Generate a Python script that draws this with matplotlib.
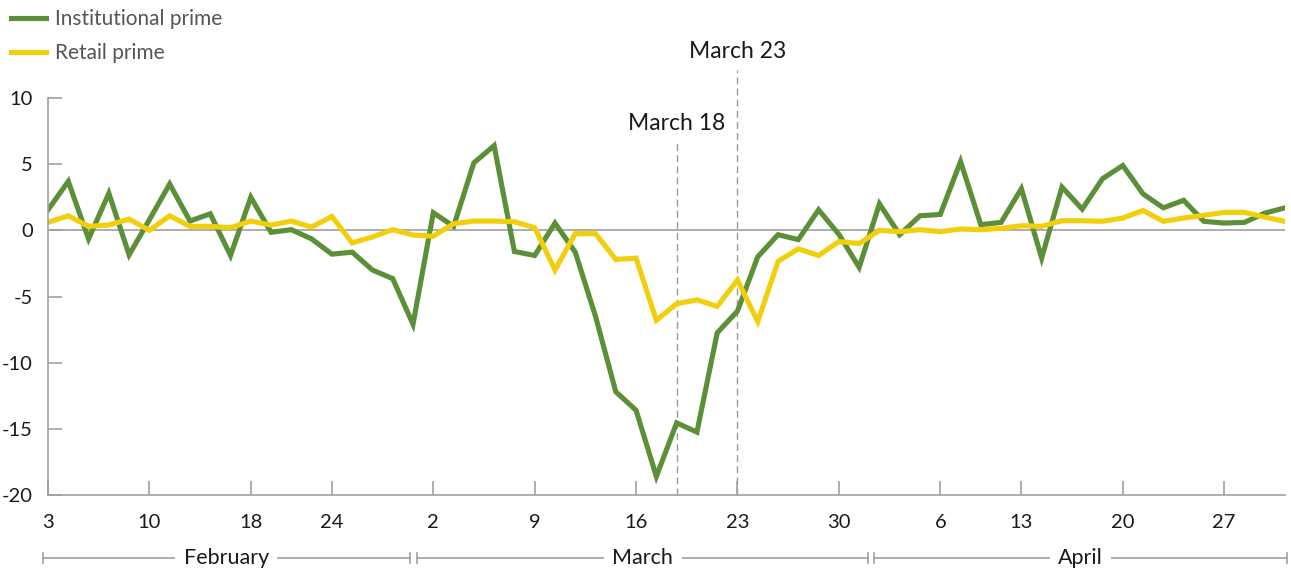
import numpy as np
import matplotlib
matplotlib.use("Agg")
import matplotlib.pyplot as plt
from matplotlib.transforms import blended_transform_factory

plt.rcParams['font.family'] = ['Lato', 'DejaVu Sans']
plt.rcParams['axes.unicode_minus'] = False

# business days, Feb 3 - Apr 30 (index positions)
institutional = [1.55, 3.7, -0.65, 2.8, -1.85, 0.8, 3.5, 0.7, 1.25, -1.9,
                 2.5, -0.15, 0.05, -0.65, -1.8, -1.65, -3.0, -3.65, -7.1, 1.33,
                 0.3, 5.1, 6.4, -1.6, -1.9, 0.55, -1.65, -6.5, -12.2, -13.6,
                 -18.6, -14.55, -15.25, -7.75, -6.1, -2.0, -0.33, -0.7, 1.55, -0.3,
                 -2.8, 2.0, -0.33, 1.1, 1.2, 5.2, 0.43, 0.6, 3.15, -2.1,
                 3.27, 1.6, 3.9, 4.9, 2.75, 1.7, 2.27, 0.68, 0.55, 0.6,
                 1.3, 1.7]
retail = [0.6, 1.1, 0.3, 0.4, 0.85, 0.0, 1.1, 0.3, 0.3, 0.2,
          0.7, 0.4, 0.7, 0.25, 1.05, -0.95, -0.5, 0.05, -0.35, -0.45,
          0.5, 0.7, 0.7, 0.65, 0.2, -3.0, -0.25, -0.25, -2.2, -2.1,
          -6.8, -5.55, -5.25, -5.75, -3.75, -6.9, -2.35, -1.4, -1.9, -0.85,
          -1.0, 0.0, -0.1, 0.05, -0.1, 0.1, 0.05, 0.15, 0.35, 0.3,
          0.73, 0.73, 0.68, 0.93, 1.5, 0.68, 0.93, 1.13, 1.36, 1.36,
          1.0, 0.68]

tick_pos = [0, 5, 10, 14, 19, 24, 29, 34, 39, 44, 48, 53, 58]
tick_labels = ['3', '10', '18', '24', '2', '9', '16', '23', '30', '6', '13', '20', '27']
months = ['February', 'March', 'April']
month_spans = [(-0.25, 17.85), (18.2, 40.45), (40.75, 61.1)]
events = ['March 18', 'March 23']
event_pos = [31, 34]
event_top = [6.65, 12.1]

green = '#5b9038'
yellow = '#f2cf0c'
grey = '#a0a0a0'

fig = plt.figure(figsize=(12.91, 5.74), dpi=100)
ax = fig.add_axes([48 / 1291, 1 - 495 / 574, (1285 - 48) / 1291, 397 / 574])

x = np.arange(len(institutional))
ax.plot(x, institutional, color=green, lw=3.7, label='Institutional prime', solid_joinstyle='miter')
ax.plot(x, retail, color=yellow, lw=3.7, label='Retail prime', solid_joinstyle='miter')
ax.axhline(0, color=grey, lw=1.2, zorder=0)

for name, pos, top in zip(events, event_pos, event_top):
    ax.plot([pos, pos], [-20, top], color='#999999', lw=1, ls=(0, (5, 3)), clip_on=False, zorder=0)
    ax.text(pos, top + 0.6, name, ha='center', va='bottom', fontsize=16.5, color='#1a1a1a')

ax.set_xlim(0, 61)
ax.set_ylim(-20, 10)
ax.set_yticks([-20, -15, -10, -5, 0, 5, 10])
ax.set_xticks(tick_pos)
ax.set_xticklabels(tick_labels)
ax.tick_params(direction='in', length=10, color=grey, width=1.2, labelsize=14.5,
               labelcolor='#1a1a1a')
ax.tick_params(axis='x', pad=14)
ax.tick_params(axis='y', pad=11)
for s in ['top', 'right']:
    ax.spines[s].set_visible(False)
for s in ['left', 'bottom']:
    ax.spines[s].set_color(grey)
    ax.spines[s].set_linewidth(1.2)

# month brackets under the axis
tr = blended_transform_factory(ax.transData, ax.transAxes)
yb = -0.159
for name, (a, b) in zip(months, month_spans):
    ax.plot([a, b], [yb, yb], color=grey, lw=1.2, transform=tr, clip_on=False)
    for e in (a, b):
        ax.plot([e, e], [yb - 0.012, yb + 0.012], color=grey, lw=1.2, transform=tr, clip_on=False)
    ax.text((a + b) / 2, yb, name, transform=tr, ha='center', va='center', fontsize=15.5,
            color='#1a1a1a', bbox=dict(facecolor='white', edgecolor='none', pad=6))

leg = ax.legend(loc='upper left', bbox_to_anchor=(2 / 1291, 1.0), bbox_transform=fig.transFigure,
                frameon=False, fontsize=15, handlelength=1.65, handletextpad=0.45,
                labelspacing=0.65, borderaxespad=0.0, borderpad=0.45)
for t in leg.get_texts():
    t.set_color('#555555')

fig.savefig('out.png', dpi=100)
